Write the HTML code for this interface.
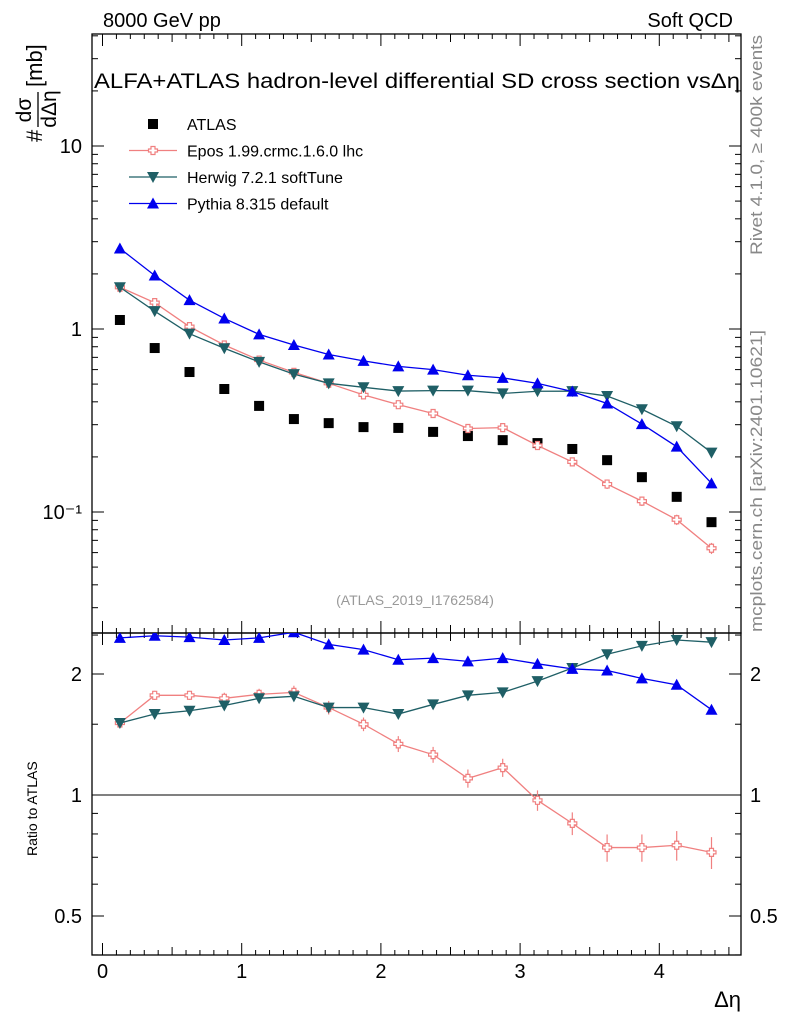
<!DOCTYPE html>
<html><head><meta charset="utf-8"><style>
body{margin:0;background:#fff;}
svg{display:block;font-family:"Liberation Sans",sans-serif;}
</style></head><body>
<svg id="c" width="786" height="1024" viewBox="0 0 786 1024"></svg>
<script>
const xCenters=[0.125,0.375,0.625,0.875,1.125,1.375,1.625,1.875,2.125,2.375,2.625,2.875,3.125,3.375,3.625,3.875,4.125,4.375];
const atlas=[1.12,0.787,0.582,0.47,0.38,0.322,0.306,0.291,0.288,0.274,0.26,0.247,0.238,0.221,0.192,0.155,0.121,0.088];
const eposRatio=[1.51,1.77,1.77,1.74,1.78,1.80,1.65,1.50,1.34,1.26,1.10,1.17,0.97,0.85,0.74,0.74,0.75,0.72];
const herwigRatio=[1.51,1.59,1.62,1.67,1.74,1.76,1.65,1.65,1.59,1.68,1.77,1.80,1.92,2.07,2.24,2.35,2.43,2.40];
const pythiaRatio=[2.46,2.49,2.47,2.43,2.46,2.54,2.37,2.30,2.17,2.19,2.15,2.19,2.12,2.06,2.04,1.95,1.88,1.63];
const eposRelErr=[0.02,0.02,0.02,0.025,0.025,0.03,0.03,0.03,0.035,0.035,0.04,0.04,0.045,0.05,0.06,0.06,0.065,0.07];
const mainTicks=[0.1,1,10];const mainTickLabels=["10\u207b\u00b9","1","10"];
const ratioTicks=[0.5,1,2];const ratioTickLabels=["0.5","1","2"];
const xTicks=[0,1,2,3,4];

const svg=document.getElementById('c');const NS='http://www.w3.org/2000/svg';
function el(t,a,p){const e=document.createElementNS(NS,t);for(const k in a)e.setAttribute(k,a[k]);(p||svg).appendChild(e);return e;}
const L=92,R=741,T=34,M=633,B=955;
const X=v=>102.5+v*139.2;
const Y=v=>329-183*Math.log10(v);
const YR=v=>795-121*Math.log2(v);

let f=el('rect',{x:L,y:T,width:R-L,height:M-T,fill:'none',stroke:'#000','stroke-width':1.3});

f=el('rect',{x:L,y:M,width:R-L,height:B-M,fill:'none',stroke:'#000','stroke-width':1.3});


const xt=el('g',{stroke:'#000','stroke-width':1});

for(let v=0;v<=4.5;v+=0.1){const x=X(v);const maj=Math.abs(v-Math.round(v))<1e-6;const l=maj?12:(Math.abs(v*2-Math.round(v*2))<1e-6?8:5);
 if(x<L||x>R)continue;
 el('line',{x1:x,y1:B,x2:x,y2:B-l},xt);el('line',{x1:x,y1:M,x2:x,y2:M-l},xt);el('line',{x1:x,y1:M,x2:x,y2:M+l},xt);el('line',{x1:x,y1:T,x2:x,y2:T+l},xt);}
xTicks.forEach(v=>{const t=el('text',{x:X(v),y:978,'font-size':20,'text-anchor':'middle'});t.textContent=v;
 });
let t=el('text',{x:741,y:1007,'font-size':22,'text-anchor':'end'});t.textContent='\u0394\u03b7';


const yt=el('g',{stroke:'#000','stroke-width':1});

for(let d=-2;d<=1;d++)for(let m=1;m<=9;m++){const v=m*Math.pow(10,d);const y=Y(v);if(y<T||y>M)continue;const l=m==1?12:6;
 el('line',{x1:L,y1:y,x2:L+l,y2:y},yt);el('line',{x1:R,y1:y,x2:R-l,y2:y},yt);}
mainTicks.forEach((v,i)=>{const t=el('text',{x:82,y:Y(v)+7,'font-size':20,'text-anchor':'end'});t.textContent=mainTickLabels[i];
 });
const rt=el('g',{stroke:'#000','stroke-width':1});

[0.4,0.5,0.6,0.7,0.8,0.9,1,1.5,2,2.5].forEach(v=>{const y=YR(v);if(y<M||y>B)return;const l=[0.5,1,2].includes(v)?12:6;
 el('line',{x1:L,y1:y,x2:L+l,y2:y},rt);el('line',{x1:R,y1:y,x2:R-l,y2:y},rt);});
ratioTicks.forEach((v,i)=>{let t=el('text',{x:82,y:YR(v)+7,'font-size':20,'text-anchor':'end'});t.textContent=ratioTickLabels[i];
 
 t=el('text',{x:750,y:YR(v)+7,'font-size':20});t.textContent=ratioTickLabels[i];
 });
let ln=el('line',{x1:L,y1:YR(1),x2:R,y2:YR(1),stroke:'#000','stroke-width':1});


function txt(s,a,name){const t=el('text',a);t.textContent=s;return t;}
txt('8000 GeV pp',{x:103,y:27,'font-size':20},'energy-label');
txt('Soft QCD',{x:733,y:27,'font-size':20,'text-anchor':'end'},'category-label');
txt('ALFA+ATLAS hadron-level differential SD cross section vs\u0394\u03b7',{x:94,y:88,'font-size':21,textLength:646,lengthAdjust:'spacingAndGlyphs'},'plot-title');
txt('(ATLAS_2019_I1762584)',{x:415,y:605,'font-size':14,fill:'#999','text-anchor':'middle'},'analysis-id');
txt('Rivet 4.1.0, \u2265 400k events',{x:0,y:0,'font-size':17,fill:'#888',transform:'translate(762,255) rotate(-90)',textLength:220,lengthAdjust:'spacingAndGlyphs'},'rivet-label');
txt('mcplots.cern.ch [arXiv:2401.10621]',{x:0,y:0,'font-size':17,fill:'#888',transform:'translate(762,632) rotate(-90)',textLength:302,lengthAdjust:'spacingAndGlyphs'},'mcplots-label');
txt('Ratio to ATLAS',{x:0,y:0,'font-size':14,transform:'translate(37,856) rotate(-90)'},'ratio-y-title');
const yl=el('g',{transform:'translate(42,142) rotate(-90)'});
el('text',{x:0,y:0,'font-size':22},yl).textContent='#';
el('text',{x:32,y:-11,'font-size':21,'text-anchor':'middle'},yl).textContent='d\u03c3';
el('line',{x1:15,y1:-4,x2:50,y2:-4,stroke:'#000','stroke-width':1.3},yl);
el('text',{x:33,y:14,'font-size':21,'text-anchor':'middle'},yl).textContent='d\u0394\u03b7';
el('text',{x:55,y:0,'font-size':22},yl).textContent='[mb]';

function marker(kind,x,y,c,g){
 if(kind=='sq')el('rect',{x:x-5,y:y-5,width:10,height:10,fill:c},g);
 else if(kind=='dn')el('polygon',{points:`${x-6},${y-5} ${x+6},${y-5} ${x},${y+6}`,fill:c},g);
 else if(kind=='up')el('polygon',{points:`${x-6},${y+5} ${x+6},${y+5} ${x},${y-6}`,fill:c},g);
 else if(kind=='cr'){el('path',{d:`M${x-2},${y-4}h4v2.5h2.5v3h-2.5v2.5h-4v-2.5h-2.5v-3h2.5z`,fill:'#fff',stroke:c,'stroke-width':1.2},g);}
}
function clip(id,y0,y1){const cp=el('clipPath',{id});el('rect',{x:L,y:y0,width:R-L,height:y1-y0},cp);}
clip('cm',T,M);clip('cr',M,B);
function series(name,vals,col,kind,yf,cp,err){
 const g=el('g',{'clip-path':`url(#${cp})`});
 
 if(kind!='sq'){el('polyline',{points:vals.map((v,i)=>X(xCenters[i])+','+yf(v)).join(' '),fill:'none',stroke:col,'stroke-width':1.3},g);}
 vals.forEach((v,i)=>{const x=X(xCenters[i]),y=yf(v);
  if(err){const e=err[i];el('line',{x1:x,y1:yf(v*(1+e)),x2:x,y2:yf(v*(1-e)),stroke:col,'stroke-width':1.2},g);}
  marker(kind,x,y,col,g);});
}
const epos=atlas.map((a,i)=>a*eposRatio[i]),herwig=atlas.map((a,i)=>a*herwigRatio[i]),pythia=atlas.map((a,i)=>a*pythiaRatio[i]);
series('atlas-data',atlas,'#000','sq',Y,'cm');
series('epos-series',epos,'#f08080','cr',Y,'cm',eposRelErr);
series('herwig-series',herwig,'#1f5f66','dn',Y,'cm');
series('pythia-series',pythia,'#0000ee','up',Y,'cm');
series('epos-ratio',eposRatio,'#f08080','cr',YR,'cr',eposRelErr.map(e=>e*1.3));
series('herwig-ratio',herwigRatio,'#1f5f66','dn',YR,'cr');
series('pythia-ratio',pythiaRatio,'#0000ee','up',YR,'cr');

const leg=[['ATLAS','#000','sq'],['Epos 1.99.crmc.1.6.0 lhc','#f08080','cr'],['Herwig 7.2.1 softTune','#1f5f66','dn'],['Pythia 8.315 default','#0000ee','up']];
leg.forEach((d,i)=>{const y=124+i*26.5;const g=el('g',{});
 
 if(d[2]!='sq')el('line',{x1:129,y1:y,x2:177,y2:y,stroke:d[1],'stroke-width':1.3},g);
 marker(d[2],153,y,d[1],g);
 el('text',{x:187,y:y+6,'font-size':16},g).textContent=d[0];});
</script>
</body></html>
